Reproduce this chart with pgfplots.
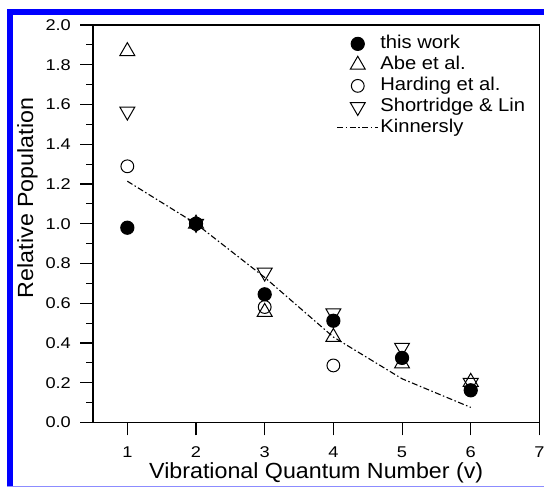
\documentclass[border=0pt]{standalone}
\usepackage{fontspec}
\setmainfont{Liberation Sans}
\newfontfamily\tickfont[FakeStretch=1.17]{Liberation Sans}
\newfontfamily\labfont[FakeStretch=1.06]{Liberation Sans}
\newfontfamily\legfont[FakeStretch=1.09]{Liberation Sans}
\usepackage{pgfplots}
\pgfplotsset{compat=1.18}
\definecolor{frameblue}{RGB}{0,0,255}
\definecolor{framelight}{RGB}{140,140,255}
\pgfplotsset{
  mk/.style={only marks, line width=1bp,
    legend image code/.code={\draw[mark repeat=2,mark phase=2,##1] plot coordinates {(0bp,0bp) (20.5bp,0bp) (41bp,0bp)};}},
  kinleg/.style={legend image code/.code={\draw[##1] (0bp,0bp) -- (41bp,0bp);}},
}

\begin{document}
\begin{tikzpicture}[x=1bp,y=1bp]
\path[use as bounding box] (0,0) rectangle (544,487);
% blue frame of the figure
\fill[frameblue] (7.3,0) rectangle (12.7,477.7);
\fill[frameblue] (7.3,472) rectangle (544,477.7);
\draw[framelight,line width=1bp] (7.3,0.8) -- (544,0.8);

\begin{axis}[
  at={(93bp,64.5bp)}, anchor=south west,
  scale only axis,
  width=446.4bp, height=397.5bp,
  xmin=0.5, xmax=7, ymin=0, ymax=2,
  xtick={1,...,7},
  ytick={0,0.2,...,2.0},
  minor y tick num=1,
  xtick pos=bottom, ytick pos=left,
  tick align=outside,
  major tick length=13bp, minor tick length=7bp,
  axis line style={line width=1.1bp},
  every tick/.style={black, line width=1.1bp},
  tick label style={font=\tickfont\fontsize{15.6}{15.6}\selectfont},
  /pgf/number format/assume math mode=true,
  yticklabel style={inner xsep=0pt, xshift=-9bp, /pgf/number format/.cd, fixed, fixed zerofill, precision=1},
  xticklabel style={inner ysep=0pt, yshift=-11.2bp},
  xlabel={Vibrational Quantum Number (v)},
  ylabel={Relative Population},
  label style={font=\labfont\fontsize{22}{22}\selectfont, inner sep=0pt},
  xlabel style={at={(axis description cs:0.5,-0.1421)}, anchor=base},
  ylabel style={at={(axis description cs:-0.1344,0.565)}, anchor=base},
  reverse legend,
  legend style={at={(axis description cs:0.5388,0.9844)}, anchor=north west,
    draw=none, fill=none, font=\legfont\fontsize{18.6}{18.6}\selectfont,
    nodes={inner xsep=1.5bp, inner ysep=1bp, text height=14.5bp, text depth=4.5bp},
    row sep=0pt, column sep=0pt},
  legend cell align=left,
]
% Kinnersly (drawn first, underneath)
\addplot[kinleg, black, line width=1.1bp, dash pattern=on 6bp off 2.5bp on 1.5bp off 2.5bp]
  coordinates {(1,1.214) (2,1.0) (3,0.73) (4,0.43) (5,0.22) (6,0.076)};
\addlegendentry{Kinnersly}
% Shortridge & Lin
\addplot[mk, black, mark=triangle, mark size=8.6bp, mark options={rotate=180}]
  coordinates {(1,1.565) (2,1.0) (3,0.755) (4,0.55) (5,0.377) (6,0.20)};
\addlegendentry{Shortridge \& Lin}
% Harding et al.
\addplot[mk, black, mark=o, mark size=6.4bp]
  coordinates {(1,1.289) (2,1.0) (3,0.581) (4,0.287)};
\addlegendentry{Harding et al.}
% Abe et al.
\addplot[mk, black, mark=triangle, mark size=8.6bp]
  coordinates {(1,1.868) (2,1.0) (3,0.556) (4,0.43) (5,0.296) (6,0.204)};
\addlegendentry{Abe et al.}
% this work (on top)
\addplot[mk, black, mark=*, mark size=6.6bp, mark options={fill=black}]
  coordinates {(1,0.98) (2,1.0) (3,0.645) (4,0.512) (5,0.325) (6,0.162)};
\addlegendentry{this work}
\end{axis}
\end{tikzpicture}
\end{document}
